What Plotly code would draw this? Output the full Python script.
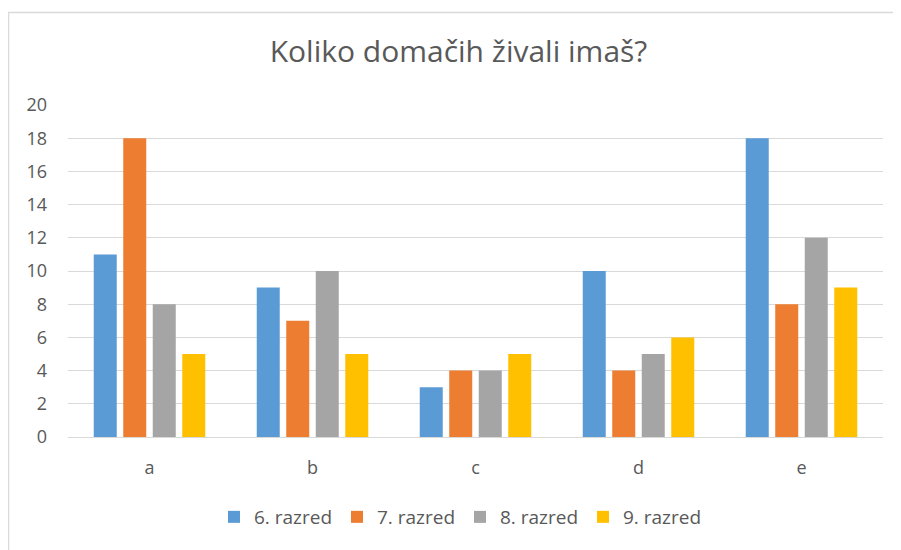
import plotly.graph_objects as go

categories = ["a", "b", "c", "d", "e"]
series_names = ["6. razred", "7. razred", "8. razred", "9. razred"]
razred6 = [11, 9, 3, 10, 18]
razred7 = [18, 7, 4, 4, 8]
razred8 = [8, 10, 4, 5, 12]
razred9 = [5, 5, 5, 6, 9]
colors = ["#5B9BD5", "#ED7D31", "#A5A5A5", "#FFC000"]
y_ticks = list(range(0, 21, 2))

FONT = "Open Sans"
TXT = "#595959"

fig = go.Figure()
for name, vals, c in zip(series_names, [razred6, razred7, razred8, razred9], colors):
    fig.add_trace(go.Bar(x=categories, y=vals, name=name, marker=dict(color=c, line=dict(width=0))))

# page body has an 8px margin; work in figure coordinates = screen - 8
OFF = 8
W, H = 901, 550
L, R, T, B = 68 - OFF, W - (883 - OFF), 105 - OFF, H - (437 - OFF)
pw, ph = W - L - R, H - T - B

def px(sx):
    return (sx - OFF - L) / pw

def py(sy):
    return (H - B - (sy - OFF)) / ph

fig.update_layout(
    width=W, height=H,
    margin=dict(l=L, r=R, t=T, b=B),
    paper_bgcolor="white", plot_bgcolor="white",
    barmode="group", bargap=0.276, bargroupgap=0.22,
    title=dict(text="Koliko domačih živali imaš?", x=0.5, xanchor="center",
               y=1 - (51 - OFF) / H, yanchor="middle",
               font=dict(family=FONT, size=30, color=TXT)),
    font=dict(family=FONT, color=TXT),
    legend=dict(orientation="h", x=px(460), xanchor="center", y=py(517), yanchor="middle",
                font=dict(family=FONT, size=19, color=TXT), traceorder="normal",
                itemwidth=30, entrywidth=78, entrywidthmode="pixels"),
    yaxis=dict(range=[0, 20], tickvals=y_ticks, showgrid=True, gridcolor="#D9D9D9",
               gridwidth=1, zeroline=False, showline=False, ticks="",
               tickfont=dict(family=FONT, size=18, color=TXT), ticklabelstandoff=20),
    xaxis=dict(showline=True, linecolor="#D9D9D9", linewidth=1, ticks="", showgrid=False,
               tickfont=dict(family=FONT, size=18, color=TXT), ticklabelstandoff=14),
    shapes=[dict(type="rect", xref="paper", yref="paper",
                 x0=px(8.5), x1=px(W + 20), y0=py(H + 20), y1=py(12.5),
                 line=dict(color="#D9D9D9", width=1.5), fillcolor="rgba(0,0,0,0)",
                 layer="below")],
)

fig.write_html("out.html")
